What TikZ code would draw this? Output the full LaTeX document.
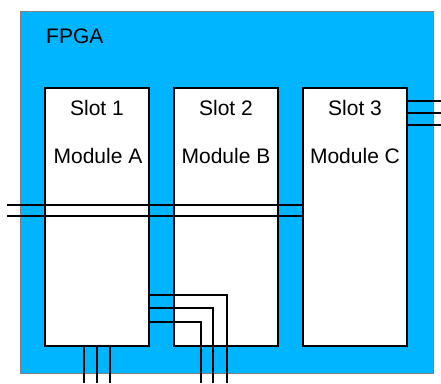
\documentclass[tikz,border=0pt]{standalone}
\usepackage{fontspec}
\setmainfont{Liberation Sans}
\usetikzlibrary{positioning}
\definecolor{fpgablue}{HTML}{00B5FF}

\begin{document}
\begin{tikzpicture}[x=1pt,y=-1pt,
    every node/.style={font=\fontsize{21}{25}\selectfont},
    slotbox/.style={draw=black,line width=2pt,fill=white,minimum width=104pt,minimum height=258pt,inner sep=0pt},
    txt/.style={anchor=base,inner sep=0pt},
    wire/.style={draw=black,line width=2pt}]
        \useasboundingbox (0,0) rectangle (441,383);
        \node[draw=gray,line width=0.6pt,fill=fpgablue,minimum width=413pt,minimum height=362pt,inner sep=0pt] (fpga) at (226.5,192) {};
        \node[txt,anchor=base west] (fpgalbl) at (46,43) {FPGA};
        \node[slotbox] (s1) at (97,217) {};
        \node[slotbox] (s2) at (226,217) {};
        \node[slotbox] (s3) at (355,217) {};
        % wires
        \coordinate (l1) at (7,205);
        \coordinate (l2) at (7,216);
        \draw[wire] (l1) -- (l1 -| s3.west);
        \draw[wire] (l2) -- (l2 -| s3.west);
        \coordinate (r1) at (441,101);
        \coordinate (r2) at (441,113);
        \coordinate (r3) at (441,125);
        \draw[wire] (r1 -| s3.east) -- (r1);
        \draw[wire] (r2 -| s3.east) -- (r2);
        \draw[wire] (r3 -| s3.east) -- (r3);
        \coordinate (b1) at (84,383);
        \coordinate (b2) at (97,383);
        \coordinate (b3) at (110,383);
        \draw[wire] (b1 |- s1.south) -- (b1);
        \draw[wire] (b2 |- s1.south) -- (b2);
        \draw[wire] (b3 |- s1.south) -- (b3);
        \coordinate (k1) at (227,295);
        \coordinate (k2) at (213,308);
        \coordinate (k3) at (201,322);
        \draw[wire] (k1 -| s1.east) -- (k1) -- (k1 |- b1);
        \draw[wire] (k2 -| s1.east) -- (k2) -- (k2 |- b1);
        \draw[wire] (k3 -| s1.east) -- (k3) -- (k3 |- b1);
        % labels
        \node[txt] (t1) at (97,115) {Slot 1};
        \node[txt] (m1) at (98,163) {Module A};
        \node[txt] (t2) at (226,115) {Slot 2};
        \node[txt] (m2) at (226,163) {Module B};
        \node[txt] (t3) at (355,115) {Slot 3};
        \node[txt] (m3) at (355,163) {Module C};
      \end{tikzpicture}
\end{document}
